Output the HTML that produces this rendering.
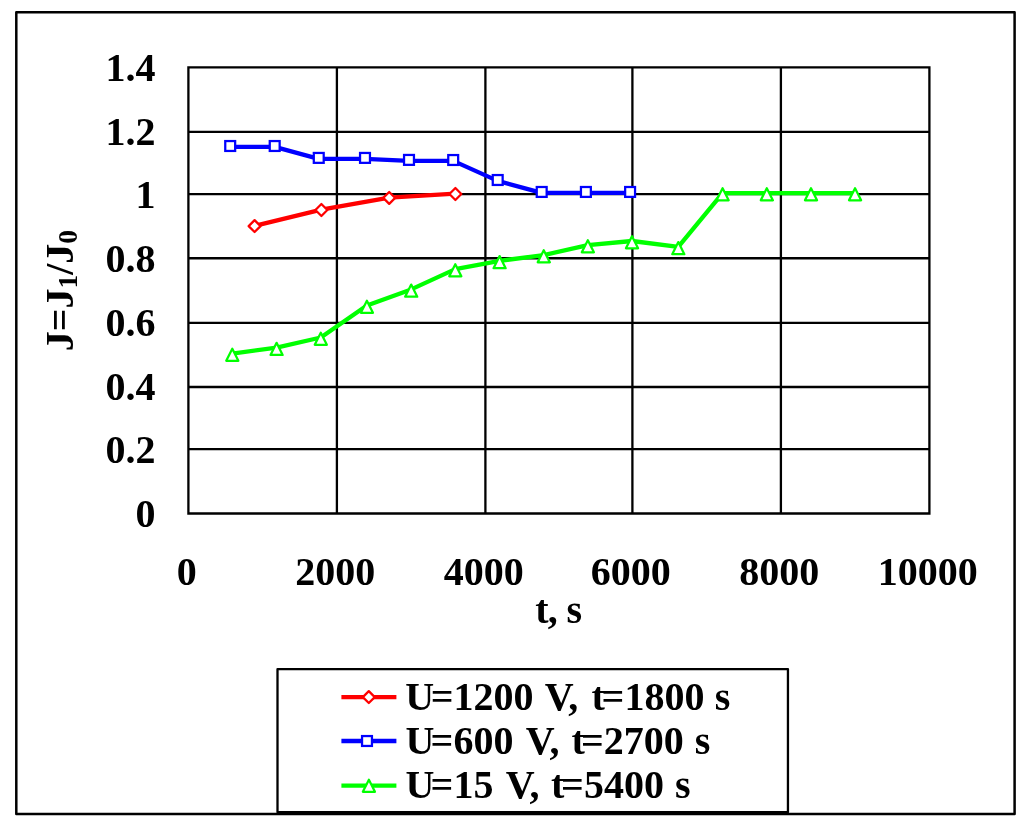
<!DOCTYPE html><html><head><meta charset="utf-8"><title>J vs t chart</title><style>html,body{margin:0;padding:0;background:#fff;width:1024px;height:829px;overflow:hidden}svg{display:block;will-change:transform}text{font-family:"Liberation Serif",serif;font-weight:bold}</style></head><body>
<svg width="1024" height="829" viewBox="0 0 1024 829">
<rect width="1024" height="829" fill="#fff"/>
<rect x="16.3" y="12.15" width="998.3" height="801.75" fill="none" stroke="#000" stroke-width="2.5" stroke-linejoin="round"/>
<path d="M188.40,67.40H929.40M188.40,131.90H929.40M188.40,194.10H929.40M188.40,258.25H929.40M188.40,322.90H929.40M188.40,387.00H929.40M188.40,449.20H929.40M188.40,513.50H929.40M188.40,67.40V513.50M336.90,67.40V513.50M485.40,67.40V513.50M632.40,67.40V513.50M780.90,67.40V513.50M929.40,67.40V513.50" stroke="#000" stroke-width="2.3" fill="none" stroke-linecap="square"/>
<text x="155.6" y="80.80" font-size="40" text-anchor="end">1.4</text>
<text x="155.6" y="145.30" font-size="40" text-anchor="end">1.2</text>
<text x="155.6" y="207.50" font-size="40" text-anchor="end">1</text>
<text x="155.6" y="271.65" font-size="40" text-anchor="end">0.8</text>
<text x="155.6" y="336.30" font-size="40" text-anchor="end">0.6</text>
<text x="155.6" y="400.40" font-size="40" text-anchor="end">0.4</text>
<text x="155.6" y="462.60" font-size="40" text-anchor="end">0.2</text>
<text x="155.6" y="526.90" font-size="40" text-anchor="end">0</text>
<text x="186.80" y="584.9" font-size="40" text-anchor="middle">0</text>
<text x="335.30" y="584.9" font-size="40" text-anchor="middle">2000</text>
<text x="483.80" y="584.9" font-size="40" text-anchor="middle">4000</text>
<text x="630.80" y="584.9" font-size="40" text-anchor="middle">6000</text>
<text x="779.30" y="584.9" font-size="40" text-anchor="middle">8000</text>
<text x="927.80" y="584.9" font-size="40" text-anchor="middle">10000</text>
<text y="623.4" font-size="40"><tspan x="535.2">t</tspan><tspan x="547.7">,</tspan><tspan x="566.6">s</tspan></text>
<text transform="translate(73.3,290.6) rotate(-90)" font-size="40" text-anchor="middle">J=J<tspan font-size="27.4" dy="3.4">1</tspan><tspan dy="-3.4">/J</tspan><tspan font-size="27.4" dy="3.4">0</tspan></text>
<polyline points="254.60,225.80 321.40,209.70 389.20,197.60 455.40,193.70" fill="none" stroke="#f00" stroke-width="4.3" stroke-linejoin="round"/>
<path d="M254.60,220.15L260.55,226.10L254.60,232.05L248.65,226.10Z" fill="#fff" stroke="#f00" stroke-width="2.25" stroke-linejoin="round"/>
<path d="M321.40,204.05L327.35,210.00L321.40,215.95L315.45,210.00Z" fill="#fff" stroke="#f00" stroke-width="2.25" stroke-linejoin="round"/>
<path d="M389.20,191.95L395.15,197.90L389.20,203.85L383.25,197.90Z" fill="#fff" stroke="#f00" stroke-width="2.25" stroke-linejoin="round"/>
<path d="M455.40,188.05L461.35,194.00L455.40,199.95L449.45,194.00Z" fill="#fff" stroke="#f00" stroke-width="2.25" stroke-linejoin="round"/>
<polyline points="230.20,146.90 274.70,146.90 318.75,158.80 365.00,158.80 409.00,160.80 453.20,160.90 497.70,180.90 541.70,192.85 585.90,192.85 630.10,192.85" fill="none" stroke="#00f" stroke-width="4.3" stroke-linejoin="round"/>
<rect x="225.25" y="141.05" width="9.9" height="9.9" fill="#fff" stroke="#00f" stroke-width="2.25"/>
<rect x="269.75" y="141.05" width="9.9" height="9.9" fill="#fff" stroke="#00f" stroke-width="2.25"/>
<rect x="313.80" y="152.95" width="9.9" height="9.9" fill="#fff" stroke="#00f" stroke-width="2.25"/>
<rect x="360.05" y="152.95" width="9.9" height="9.9" fill="#fff" stroke="#00f" stroke-width="2.25"/>
<rect x="404.05" y="154.95" width="9.9" height="9.9" fill="#fff" stroke="#00f" stroke-width="2.25"/>
<rect x="448.25" y="155.05" width="9.9" height="9.9" fill="#fff" stroke="#00f" stroke-width="2.25"/>
<rect x="492.75" y="175.05" width="9.9" height="9.9" fill="#fff" stroke="#00f" stroke-width="2.25"/>
<rect x="536.75" y="187.00" width="9.9" height="9.9" fill="#fff" stroke="#00f" stroke-width="2.25"/>
<rect x="580.95" y="187.00" width="9.9" height="9.9" fill="#fff" stroke="#00f" stroke-width="2.25"/>
<rect x="625.15" y="187.00" width="9.9" height="9.9" fill="#fff" stroke="#00f" stroke-width="2.25"/>
<polyline points="232.30,353.55 276.60,347.70 320.80,337.50 366.90,305.60 411.20,289.40 455.30,269.10 499.60,260.90 543.75,255.05 587.85,245.05 632.00,241.00 678.30,246.90 722.60,193.05 766.80,193.05 811.00,193.05 855.05,193.05" fill="none" stroke="#0f0" stroke-width="4.3" stroke-linejoin="round"/>
<path d="M232.30,348.70L238.35,360.80L226.25,360.80Z" fill="#fff" stroke="#0f0" stroke-width="2.25" stroke-linejoin="round"/>
<path d="M276.60,342.85L282.65,354.95L270.55,354.95Z" fill="#fff" stroke="#0f0" stroke-width="2.25" stroke-linejoin="round"/>
<path d="M320.80,332.65L326.85,344.75L314.75,344.75Z" fill="#fff" stroke="#0f0" stroke-width="2.25" stroke-linejoin="round"/>
<path d="M366.90,300.75L372.95,312.85L360.85,312.85Z" fill="#fff" stroke="#0f0" stroke-width="2.25" stroke-linejoin="round"/>
<path d="M411.20,284.55L417.25,296.65L405.15,296.65Z" fill="#fff" stroke="#0f0" stroke-width="2.25" stroke-linejoin="round"/>
<path d="M455.30,264.25L461.35,276.35L449.25,276.35Z" fill="#fff" stroke="#0f0" stroke-width="2.25" stroke-linejoin="round"/>
<path d="M499.60,256.05L505.65,268.15L493.55,268.15Z" fill="#fff" stroke="#0f0" stroke-width="2.25" stroke-linejoin="round"/>
<path d="M543.75,250.20L549.80,262.30L537.70,262.30Z" fill="#fff" stroke="#0f0" stroke-width="2.25" stroke-linejoin="round"/>
<path d="M587.85,240.20L593.90,252.30L581.80,252.30Z" fill="#fff" stroke="#0f0" stroke-width="2.25" stroke-linejoin="round"/>
<path d="M632.00,236.15L638.05,248.25L625.95,248.25Z" fill="#fff" stroke="#0f0" stroke-width="2.25" stroke-linejoin="round"/>
<path d="M678.30,242.05L684.35,254.15L672.25,254.15Z" fill="#fff" stroke="#0f0" stroke-width="2.25" stroke-linejoin="round"/>
<path d="M722.60,188.20L728.65,200.30L716.55,200.30Z" fill="#fff" stroke="#0f0" stroke-width="2.25" stroke-linejoin="round"/>
<path d="M766.80,188.20L772.85,200.30L760.75,200.30Z" fill="#fff" stroke="#0f0" stroke-width="2.25" stroke-linejoin="round"/>
<path d="M811.00,188.20L817.05,200.30L804.95,200.30Z" fill="#fff" stroke="#0f0" stroke-width="2.25" stroke-linejoin="round"/>
<path d="M855.05,188.20L861.10,200.30L849.00,200.30Z" fill="#fff" stroke="#0f0" stroke-width="2.25" stroke-linejoin="round"/>
<rect x="277.5" y="669.2" width="510.45" height="143.0" fill="#fff" stroke="#000" stroke-width="2.3" stroke-linejoin="round"/>
<path d="M341.4,697.1H396.4" stroke="#f00" stroke-width="4.3"/>
<path d="M368.80,691.15L374.75,697.10L368.80,703.05L362.85,697.10Z" fill="#fff" stroke="#f00" stroke-width="2.25" stroke-linejoin="round"/>
<text y="709.6" font-size="40"><tspan x="405.25">U</tspan><tspan x="430.8">=1200</tspan><tspan x="544.65">V,</tspan><tspan x="591.4">t</tspan><tspan x="601.6">=1800</tspan><tspan x="714.7">s</tspan></text>
<path d="M341.4,741.0H396.4" stroke="#00f" stroke-width="4.3"/>
<rect x="362.05" y="736.05" width="9.9" height="9.9" fill="#fff" stroke="#00f" stroke-width="2.25"/>
<text y="754.1" font-size="40"><tspan x="405.4">U</tspan><tspan x="430.6">=600</tspan><tspan x="525.8">V,</tspan><tspan x="571.6">t</tspan><tspan x="581.0">=2700</tspan><tspan x="694.8">s</tspan></text>
<path d="M341.4,785.7H396.4" stroke="#0f0" stroke-width="4.3"/>
<path d="M368.90,779.65L374.95,791.75L362.85,791.75Z" fill="#fff" stroke="#0f0" stroke-width="2.25" stroke-linejoin="round"/>
<text y="798.0" font-size="40"><tspan x="405.4">U</tspan><tspan x="430.6">=15</tspan><tspan x="505.8">V,</tspan><tspan x="551.1">t</tspan><tspan x="561.1">=5400</tspan><tspan x="674.9">s</tspan></text>
</svg></body></html>
